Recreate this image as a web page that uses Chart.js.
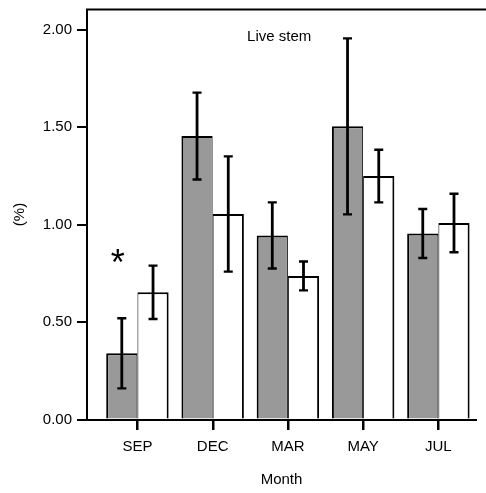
<!DOCTYPE html>
<html>
<head>
<meta charset="utf-8">
<script src="https://cdn.jsdelivr.net/npm/chart.js@4.4.1/dist/chart.umd.min.js"></script>
<style>
  html, body { margin: 0; padding: 0; background: #fff; }
  canvas { display: block; }
</style>
</head>
<body>
<canvas id="myChart" width="486" height="493"></canvas>
<script>
const months = ["SEP", "DEC", "MAR", "MAY", "JUL"];
const greyValues = [0.34, 1.455, 0.945, 1.505, 0.955];
const greyErrors = [0.18, 0.223, 0.17, 0.452, 0.126];
const whiteValues = [0.653, 1.055, 0.737, 1.25, 1.009];
const whiteErrors = [0.137, 0.296, 0.074, 0.135, 0.15];
const yTicks = [0, 0.5, 1.0, 1.5, 2.0];
const panelLabel = "Live stem";
const markedMonth = 0;      // SEP has the asterisk
const markValue = 0.79;

const font = "Liberation Sans, Arial, Helvetica, sans-serif";

const toPoints = vals => vals.map((v, i) => ({ x: i + 1, y: v }));

// error bars, month tick marks, top frame line, panel label and asterisk
const extras = {
    id: "extras",
    afterDatasetsDraw(chart) {
        const ctx = chart.ctx;
        const x = chart.scales.x;
        const y = chart.scales.y;
        const area = chart.chartArea;
        const errs = [greyErrors, whiteErrors];

        ctx.save();
        ctx.strokeStyle = "#000";
        ctx.fillStyle = "#000";
        ctx.lineCap = "butt";
        chart.data.datasets.forEach((ds, di) => {
            chart.getDatasetMeta(di).data.forEach((bar, i) => {
                const v = ds.data[i].y;
                const hi = y.getPixelForValue(v + errs[di][i]);
                const lo = y.getPixelForValue(v - errs[di][i]);
                ctx.lineWidth = 2.8;
                ctx.beginPath();
                ctx.moveTo(bar.x, hi);
                ctx.lineTo(bar.x, lo);
                ctx.stroke();
                ctx.lineWidth = 2.4;
                ctx.beginPath();
                ctx.moveTo(bar.x - 4.5, hi);
                ctx.lineTo(bar.x + 4.5, hi);
                ctx.moveTo(bar.x - 4.5, lo);
                ctx.lineTo(bar.x + 4.5, lo);
                ctx.stroke();
            });
        });

        // downward tick marks at the months
        months.forEach((m, i) => {
            const px = Math.round(x.getPixelForValue(i + 1));
            ctx.fillRect(px - 1, Math.floor(area.bottom), 2.5, 11);
        });

        // frame line along the top
        ctx.lineWidth = 2;
        ctx.beginPath();
        ctx.moveTo(area.left - 1, area.top);
        ctx.lineTo(chart.width, area.top);
        ctx.stroke();

        // panel label
        ctx.font = "15px " + font;
        ctx.textAlign = "center";
        ctx.textBaseline = "middle";
        ctx.fillText(panelLabel, area.left + (area.right - area.left) * 0.494, area.top + 27);

        // asterisk
        const bar = chart.getDatasetMeta(0).data[markedMonth];
        ctx.font = "36px " + font;
        const m = ctx.measureText("*");
        const cy = y.getPixelForValue(markValue);
        ctx.textBaseline = "alphabetic";
        ctx.fillText("*", bar.x - 4, cy + (m.actualBoundingBoxAscent - m.actualBoundingBoxDescent) / 2);
        ctx.restore();
    }
};

new Chart(document.getElementById("myChart"), {
    type: "bar",
    data: {
        datasets: [{
            data: toPoints(greyValues),
            backgroundColor: "#999999",
            borderColor: "#000",
            borderWidth: { top: 2, left: 2, right: 1, bottom: 0 },
            borderSkipped: false
        }, {
            data: toPoints(whiteValues),
            backgroundColor: "#ffffff",
            borderColor: "#000",
            borderWidth: { top: 2, left: 1, right: 2, bottom: 0 },
            borderSkipped: false
        }]
    },
    options: {
        responsive: false,
        animation: false,
        events: [],
        barPercentage: 1.0,
        categoryPercentage: 0.83,
        layout: { padding: { top: 9.5, right: 10, left: 0, bottom: 0 } },
        plugins: {
            legend: { display: false },
            tooltip: { enabled: false }
        },
        scales: {
            x: {
                type: "linear",
                min: 0.33,
                max: 5.5,
                offset: false,
                afterBuildTicks: s => { s.ticks = months.map((m, i) => ({ value: i + 1 })); },
                afterFit: s => { s.height = 73.5; s.paddingLeft = 0; s.paddingRight = 0; },
                ticks: {
                    callback: v => months[v - 1],
                    color: "#000",
                    font: { family: font, size: 15 },
                    padding: 8,
                    maxRotation: 0,
                    autoSkip: false
                },
                grid: {
                    offset: false,
                    drawOnChartArea: false,
                    drawTicks: true,
                    tickLength: 10,
                    color: "#000",
                    lineWidth: 2
                },
                border: { display: true, color: "#000", width: 2 },
                title: {
                    display: true,
                    text: "Month",
                    color: "#000",
                    font: { family: font, size: 15 },
                    padding: { top: 0, bottom: 4 }
                }
            },
            y: {
                min: 0,
                max: 2.105,
                afterBuildTicks: s => { s.ticks = yTicks.map(v => ({ value: v })); },
                afterFit: s => { s.width = 87; s.paddingTop = 0; s.paddingBottom = 0; },
                ticks: {
                    callback: v => v.toFixed(2),
                    color: "#000",
                    font: { family: font, size: 15 },
                    padding: 5
                },
                grid: {
                    drawOnChartArea: false,
                    drawTicks: true,
                    tickLength: 10,
                    color: "#000",
                    lineWidth: 2
                },
                border: { display: true, color: "#000", width: 2 },
                title: {
                    display: true,
                    text: "(%)",
                    color: "#000",
                    font: { family: font, size: 15 },
                    padding: { top: 11, bottom: 0 }
                }
            }
        }
    },
    plugins: [extras]
});
</script>
</body>
</html>
